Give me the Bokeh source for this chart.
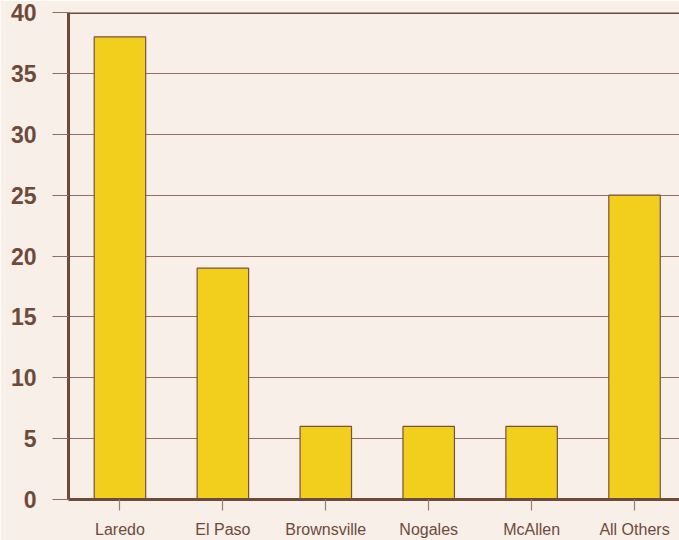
from bokeh.plotting import figure
from bokeh.models import Range1d, FixedTicker, Span
from bokeh.embed import file_html
from bokeh.resources import INLINE

categories = ["Laredo", "El Paso", "Brownsville", "Nogales", "McAllen", "All Others"]
values = [38, 19, 6, 6, 6, 25]
y_ticks = [0, 5, 10, 15, 20, 25, 30, 35, 40]

BG = "#F7EFE8"
BROWN = "#6E4A3B"
GRID = "#8C6E62"
BAR = "#F2CF1D"

xs = list(range(len(categories)))

p = figure(width=679, height=540, output_backend="svg", toolbar_location=None,
           x_range=Range1d(-0.5, 5.437), y_range=Range1d(0, 40),
           min_border_left=68, min_border_right=0, min_border_top=12, min_border_bottom=41,
           background_fill_color=BG, border_fill_color=BG)
p.outline_line_color = None

p.vbar(x=xs, top=values, width=0.5, fill_color=BAR, line_color="#7B5040", line_width=1.2)

# y axis
p.yaxis.ticker = FixedTicker(ticks=y_ticks)
p.yaxis.axis_line_color = BROWN
p.yaxis.axis_line_width = 3
p.yaxis.major_tick_out = 16
p.yaxis.major_tick_in = 0
p.yaxis.major_tick_line_color = GRID
p.yaxis.major_tick_line_width = 1.2
p.yaxis.minor_tick_line_color = None
p.yaxis.major_label_text_font = "Liberation Sans"
p.yaxis.major_label_text_font_style = "bold"
p.yaxis.major_label_text_font_size = "23px"
p.yaxis.major_label_text_color = BROWN
p.yaxis.major_label_standoff = 16

# x axis
p.xaxis.ticker = FixedTicker(ticks=xs)
p.xaxis.major_label_overrides = {i: c for i, c in enumerate(categories)}
p.xaxis.axis_line_color = BROWN
p.xaxis.axis_line_width = 3
p.xaxis.major_tick_out = 11
p.xaxis.major_tick_in = 0
p.xaxis.major_tick_line_color = "#9C7E72"
p.xaxis.major_tick_line_width = 1.2
p.xaxis.minor_tick_line_color = None
p.xaxis.major_label_text_font = "Liberation Sans"
p.xaxis.major_label_text_font_size = "16px"
p.xaxis.major_label_text_color = BROWN
p.xaxis.major_label_standoff = 10

p.xgrid.grid_line_color = None
p.ygrid.ticker = FixedTicker(ticks=y_ticks)
p.ygrid.grid_line_color = GRID
p.ygrid.grid_line_width = 1.2

top = Span(location=40, dimension="width", line_color=BROWN, line_width=3)
p.add_layout(top)

open("out.html", "w").write(file_html(p, INLINE))
